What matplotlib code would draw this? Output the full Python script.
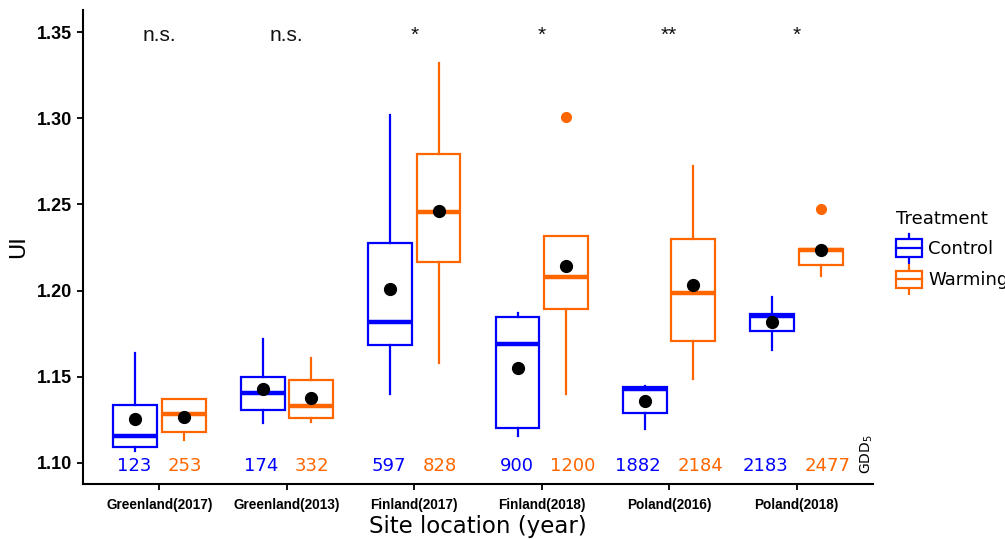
import matplotlib
matplotlib.use("Agg")
import matplotlib.pyplot as plt
from matplotlib import font_manager
from matplotlib.patches import Rectangle, Patch
from matplotlib.lines import Line2D
from matplotlib.legend_handler import HandlerBase

# ---- data ----
sites = ["Greenland(2017)", "Greenland(2013)", "Finland(2017)",
         "Finland(2018)", "Poland(2016)", "Poland(2018)"]
significance = ["n.s.", "n.s.", "*", "*", "**", "*"]

gdd_control = ["123", "174", "597", "900", "1882", "2183"]
gdd_warming = ["253", "332", "828", "1200", "2184", "2477"]

# box statistics per site: lower whisker, Q1, median, Q3, upper whisker, mean
ctrl_whislo = [1.107, 1.123, 1.140, 1.1157, 1.1195, 1.1655]
ctrl_q1 = [1.1095, 1.1307, 1.1684, 1.1201, 1.1288, 1.1766]
ctrl_med = [1.1157, 1.1408, 1.1816, 1.1688, 1.1428, 1.1854]
ctrl_q3 = [1.1336, 1.1497, 1.2274, 1.1847, 1.1441, 1.1864]
ctrl_whishi = [1.1636, 1.1719, 1.3019, 1.1872, 1.1447, 1.1961]
ctrl_mean = [1.1257, 1.1427, 1.2011, 1.1553, 1.1361, 1.1820]
ctrl_fliers = [[], [], [], [], [], []]

warm_whislo = [1.1133, 1.1240, 1.1582, 1.1400, 1.1486, 1.2087]
warm_q1 = [1.1182, 1.1263, 1.2164, 1.1892, 1.1708, 1.2149]
warm_med = [1.1284, 1.1329, 1.2454, 1.2081, 1.1988, 1.2235]
warm_q3 = [1.1370, 1.1481, 1.2792, 1.2318, 1.2299, 1.2241]
warm_whishi = [1.1370, 1.1607, 1.3318, 1.2318, 1.2725, 1.2241]
warm_mean = [1.1267, 1.1379, 1.2462, 1.2143, 1.2034, 1.2235]
warm_fliers = [[], [], [], [1.3009], [], [1.2473]]

BLUE = "#0000FF"
ORANGE = "#FF6600"


def find_font(name, weight):
    """Return FontProperties for an exact family name and weight."""
    for f in font_manager.fontManager.ttflist:
        if f.name == name and f.weight == weight and f.style == "normal":
            return font_manager.FontProperties(fname=f.fname)
    return font_manager.FontProperties(family="DejaVu Sans",
                                       weight="bold" if weight >= 700 else "normal")


arial_bold = find_font("Liberation Sans", 700)
arial = find_font("Liberation Sans", 400)


def make_stats(lo, q1, med, q3, hi, mean, fliers):
    return [dict(whislo=a, q1=b, med=c, q3=d, whishi=e, mean=f, fliers=g)
            for a, b, c, d, e, f, g in zip(lo, q1, med, q3, hi, mean, fliers)]


fig = plt.figure(figsize=(10.05, 5.40), dpi=100)
ax = fig.add_axes([83 / 1005, 1 - 484 / 540, (873 - 83) / 1005, (484 - 10) / 540])

centers = list(range(1, len(sites) + 1))
offset = 0.19
bw = 0.345


def draw_group(stats, pos, color):
    ax.bxp(stats, positions=pos, widths=bw, showmeans=True, showcaps=False,
           patch_artist=True,
           boxprops=dict(facecolor="white", edgecolor=color, linewidth=1.6),
           whiskerprops=dict(color=color, linewidth=1.6),
           medianprops=dict(color=color, linewidth=3.2, solid_capstyle="butt"),
           meanprops=dict(marker="o", markerfacecolor="black",
                          markeredgecolor="black", markersize=8.5),
           flierprops=dict(marker="o", markerfacecolor=color,
                           markeredgecolor=color, markersize=7),
           manage_ticks=False)


draw_group(make_stats(ctrl_whislo, ctrl_q1, ctrl_med, ctrl_q3, ctrl_whishi,
                      ctrl_mean, ctrl_fliers),
           [c - offset for c in centers], BLUE)
draw_group(make_stats(warm_whislo, warm_q1, warm_med, warm_q3, warm_whishi,
                      warm_mean, warm_fliers),
           [c + offset for c in centers], ORANGE)

# significance labels above each site
sig_font = arial.copy()
sig_font.set_size(15)
for c, s in zip(centers, significance):
    ax.text(c, 1.3451, s, ha="center", va="baseline", fontproperties=sig_font,
            color="#111111")

# growing degree days under each pair of boxes
for c, gc, gw in zip(centers, gdd_control, gdd_warming):
    ax.text(c - 0.063, 1.0955, gc, ha="right", va="baseline", fontsize=13,
            color=BLUE)
    ax.text(c + 0.063, 1.0955, gw, ha="left", va="baseline", fontsize=13,
            color=ORANGE)

ax.text(6.55, 1.0935, r"GDD$_5$", rotation=90, ha="center", va="bottom",
        fontsize=10, color="black")

ax.set_xlim(0.4, 6.6)
ax.set_ylim(1.0878, 1.3628)
ax.set_xticks(centers)
xt_font = arial_bold.copy()
xt_font.set_size(9.8)
ax.set_xticklabels(sites, fontproperties=xt_font)
yt_font = arial_bold.copy()
yt_font.set_size(13)
ax.set_yticks([1.10, 1.15, 1.20, 1.25, 1.30, 1.35])
ax.set_yticklabels(["1.10", "1.15", "1.20", "1.25", "1.30", "1.35"],
                   fontproperties=yt_font)
ax.tick_params(axis="both", direction="out", length=4, width=1.3, color="black")
ax.tick_params(axis="x", pad=6)
ax.tick_params(axis="y", pad=4)

for side in ("top", "right"):
    ax.spines[side].set_visible(False)
for side in ("left", "bottom"):
    ax.spines[side].set_linewidth(1.5)
    ax.spines[side].set_color("black")

ax.set_xlabel("Site location (year)", fontsize=16.5, labelpad=2)
ax.set_ylabel("UI", fontsize=16, labelpad=6)


class BoxKey(HandlerBase):
    def create_artists(self, legend, orig_handle, xdescent, ydescent,
                       width, height, fontsize, trans):
        color = orig_handle.get_edgecolor()
        x0, y0 = -xdescent, -ydescent
        bottom = y0 + 0.2 * height
        top = y0 + 0.8 * height
        mid = y0 + 0.5 * height
        xc = x0 + width / 2
        rect = Rectangle((x0, bottom), width, top - bottom, facecolor="white",
                         edgecolor=color, linewidth=1.6, transform=trans)
        med = Line2D([x0, x0 + width], [mid, mid], color=color, linewidth=1.6,
                     transform=trans)
        w1 = Line2D([xc, xc], [y0, bottom], color=color, linewidth=1.6,
                    transform=trans)
        w2 = Line2D([xc, xc], [top, y0 + height], color=color, linewidth=1.6,
                    transform=trans)
        return [w1, w2, rect, med]


handles = [Patch(edgecolor=BLUE, facecolor="white"),
           Patch(edgecolor=ORANGE, facecolor="white")]
leg = fig.legend(handles, ["Control", "Warming"], handler_map={Patch: BoxKey()},
                 loc="upper left", bbox_to_anchor=(896 / 1005, 1 - 210 / 540),
                 frameon=False, title="Treatment", fontsize=13,
                 title_fontsize=13, alignment="left", borderpad=0,
                 borderaxespad=0, handlelength=1.45, handleheight=2.15,
                 labelspacing=0.08, handletextpad=0.33)
# a little more room between the legend title and its entries
leg._legend_box.sep = 4.0

fig.savefig("out.png", dpi=100, facecolor="white")
